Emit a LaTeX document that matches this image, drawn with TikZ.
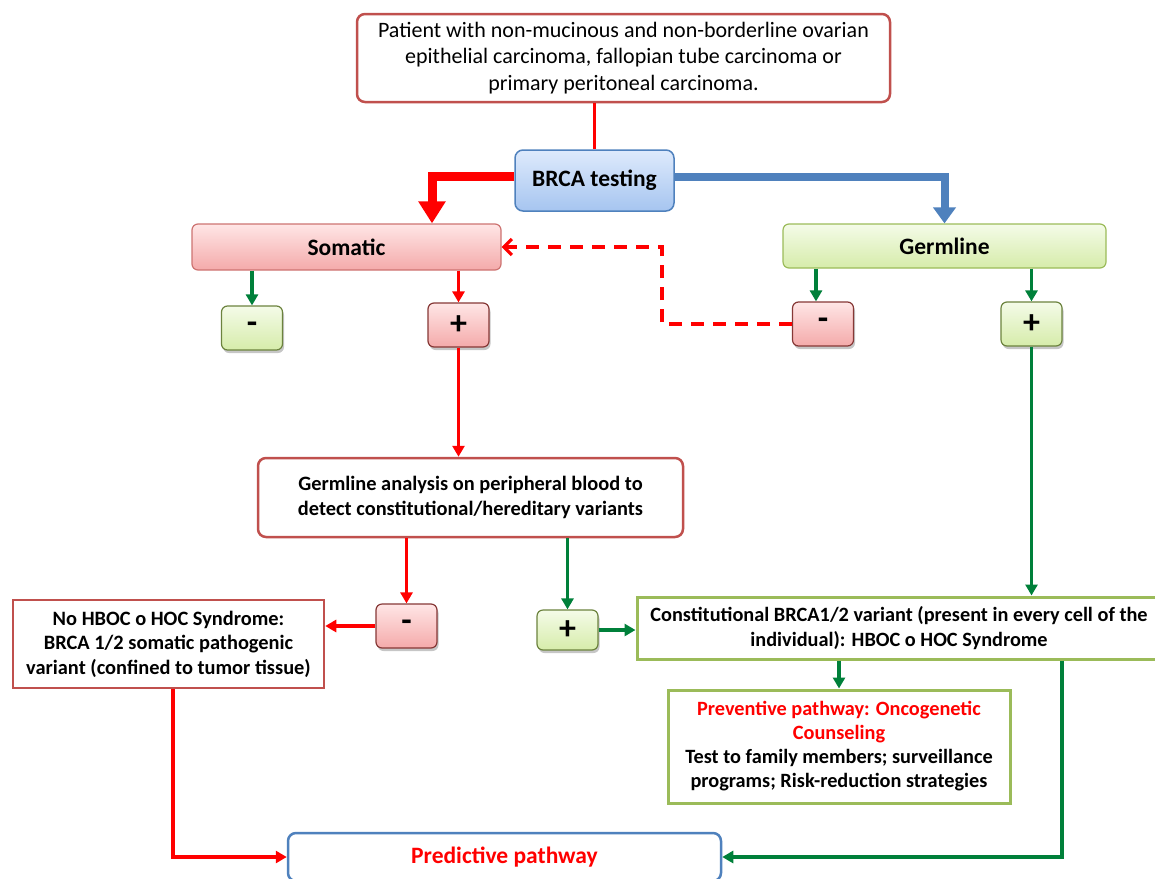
\documentclass[tikz,border=0pt]{standalone}
\usepackage{fontspec}
\setmainfont{Carlito}
\usetikzlibrary{positioning,calc,arrows.meta,shadows}

\definecolor{boxred}{RGB}{192,80,77}
\definecolor{boxgreen}{RGB}{155,187,89}
\definecolor{boxblue}{RGB}{79,129,189}
\definecolor{arrgreen}{RGB}{0,128,58}
\definecolor{pinktop}{RGB}{255,230,230}
\definecolor{pinkbot}{RGB}{244,170,170}
\definecolor{greentop}{RGB}{244,251,232}
\definecolor{greenbot}{RGB}{214,236,170}
\definecolor{bluetop}{RGB}{222,234,252}
\definecolor{bluebot}{RGB}{166,197,240}

\tikzset{
    redbox/.style={draw=boxred, line width=2.5pt, rounded corners=8pt, fill=white, align=center},
    squarered/.style={draw=boxred, line width=2.5pt, fill=white, align=center},
    squaregreen/.style={draw=boxgreen, line width=3pt, fill=white, align=center},
    bluebox/.style={draw=boxblue, line width=1.5pt, rounded corners=8pt, top color=bluetop, bottom color=bluebot, align=center},
    pinkbar/.style={draw=boxred!80, line width=1.2pt, rounded corners=6pt, top color=pinktop, bottom color=pinkbot},
    greenbar/.style={draw=boxgreen, line width=1.2pt, rounded corners=6pt, top color=greentop, bottom color=greenbot},
    pinksign/.style={pinkbar, draw=boxred!70!black, inner sep=0pt, minimum width=61pt, minimum height=44pt, font=\fontsize{34}{34}\bfseries,
        drop shadow={opacity=0.45, shadow xshift=1.5pt, shadow yshift=-3pt}},
    greensign/.style={greenbar, draw=boxgreen!70!black, inner sep=0pt, minimum width=61pt, minimum height=44pt, font=\fontsize{34}{34}\bfseries,
        drop shadow={opacity=0.45, shadow xshift=1.5pt, shadow yshift=-3pt}},
    redline/.style={draw=red, line width=3.2pt, -{Triangle[length=11pt,width=12pt]}},
    greenline/.style={draw=arrgreen, line width=3.2pt, -{Triangle[length=11pt,width=12pt]}},
    bigred/.style={draw=red, line width=9pt, -{Triangle[length=22pt,width=26pt]}},
    bigblue/.style={draw=boxblue, line width=8pt, -{Triangle[length=16pt,width=22pt]}}
}

\begin{document}
\begin{tikzpicture}[x=1pt, y=-1pt, font=\fontsize{20}{24.5}\selectfont]
    \useasboundingbox (0,0) rectangle (1155,878);
    % Define nodes
    \node[redbox, minimum width=533pt, minimum height=88pt, font=\fontsize{22}{26.5}\selectfont] (patient) at (623.5,58)
        {Patient with non-mucinous and non-borderline ovarian\\epithelial carcinoma, fallopian tube carcinoma or\\primary peritoneal carcinoma.};
    \node[bluebox, minimum width=159pt, minimum height=61pt, font=\fontsize{23.5}{23.5}\bfseries] (brca) at (594.5,180.5) {BRCA testing};

    \node[pinkbar, minimum width=309pt, minimum height=46pt, font=\fontsize{23.5}{23.5}\bfseries] (somatic) at (346.5,247) {Somatic};
    \node[greenbar, minimum width=323pt, minimum height=44pt, font=\fontsize{23.5}{23.5}\bfseries] (germline) at (944.5,246) {Germline};

    \node[greensign] (smin) at (252,328) {-};
    \node[pinksign] (splus) at (458.5,325) {+};
    \node[pinksign] (gmin) at (823,324) {-};
    \node[greensign] (gplus) at (1031.5,324) {+};

    \node[redbox, minimum width=425pt, minimum height=79pt, font=\fontsize{20.4}{24.5}\bfseries] (analysis) at (470.5,497.5)
        {Germline analysis on peripheral blood to\\detect constitutional/hereditary variants};

    \node[pinksign] (amin) at (406.5,626) {-};
    \node[greensign, minimum height=40pt] (aplus) at (567.5,630) {+};

    \node[squarered, minimum width=311pt, minimum height=88pt, font=\fontsize{20.4}{24.5}\bfseries] (nohboc) at (168.5,644)
        {No HBOC o HOC Syndrome:\\BRCA 1/2 somatic pathogenic\\variant (confined to tumor tissue)};
    \node[squaregreen, minimum width=524pt, minimum height=62pt, font=\fontsize{20.3}{25}\bfseries] (const) at (899,628)
        {Constitutional BRCA1/2 variant (present in every cell of the\\individual): HBOC o HOC Syndrome};
    \node[squaregreen, minimum width=342pt, minimum height=113pt, font=\fontsize{20.3}{24}\bfseries] (prevent) at (839,746.5)
        {\textcolor{red}{Preventive pathway: Oncogenetic}\\\textcolor{red}{Counseling}\\Test to family members; surveillance\\programs; Risk-reduction strategies};

    \node[redbox, draw=boxblue, minimum width=433pt, minimum height=48pt, font=\fontsize{23.5}{23.5}\bfseries, text=red] (predict) at (504.5,857)
        {Predictive pathway};

    % Draw arrows
    \draw[draw=red, line width=3.2pt] (brca.north |- patient.south) -- (brca.north);
    \draw[bigred] ([yshift=4pt]brca.west) -| ([xshift=85.5pt]somatic.north);
    \draw[bigblue] ([yshift=4pt]brca.east) -| (germline.north);

    \draw[greenline] (smin.north |- somatic.south) -- (smin.north);
    \draw[redline] (splus.north |- somatic.south) -- (splus.north);
    \draw[greenline] ([xshift=-7pt]gmin.north |- germline.south) -- ([xshift=-7pt]gmin.north);
    \draw[greenline] (gplus.north |- germline.south) -- (gplus.north);

    \draw[draw=red, line width=3.2pt, dash pattern=on 13pt off 9pt, -{Straight Barb[length=8pt,width=16pt]}]
        (gmin.west) -- ++(-130,0) |- (somatic.east);

    \draw[redline] (splus.south) -- (splus.south |- analysis.north);
    \draw[redline] (amin.north |- analysis.south) -- (amin.north);
    \draw[greenline] (aplus.north |- analysis.south) -- (aplus.north);
    \draw[redline] (amin.west) -- (amin.west -| nohboc.east);
    \draw[greenline] (aplus.east) -- (aplus.east -| const.west);
    \draw[greenline] (gplus.south) -- (gplus.south |- const.north);
    \draw[greenline] (prevent.north |- const.south) -- (prevent.north);

    \draw[redline] ([xshift=4.5pt]nohboc.south) |- (predict.west);
    \draw[greenline] ([xshift=163pt]const.south) |- (predict.east);
\end{tikzpicture}
\end{document}
